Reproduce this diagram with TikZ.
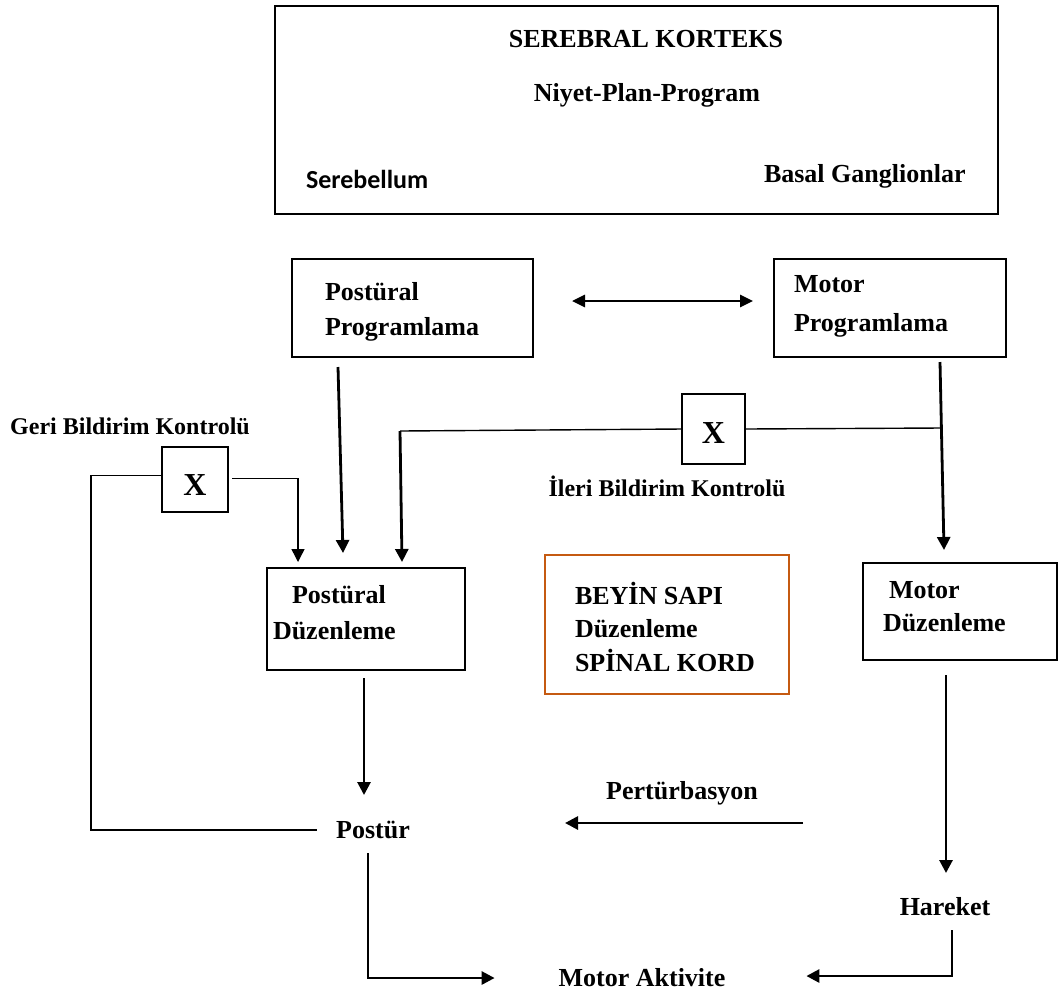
\documentclass[tikz,border=0pt]{standalone}
\usepackage{fontspec}
\setmainfont{Liberation Serif}
\newfontfamily\labelsans{Carlito}
\usetikzlibrary{arrows.meta,calc}
\definecolor{rust}{HTML}{C55A11}
\begin{document}
\begin{tikzpicture}[x=1pt,y=-1pt,
  box/.style={draw,line width=2.8pt,inner sep=0pt,outer sep=0pt},
  rustbox/.style={draw=rust,line width=2.6pt,inner sep=0pt,outer sep=0pt},
  txt/.style={font=\fontsize{26}{30}\selectfont\bfseries,inner sep=0pt,outer sep=0pt},
  smalltxt/.style={font=\fontsize{24}{28}\selectfont\bfseries,inner sep=0pt,outer sep=0pt},
  sanstxt/.style={font=\labelsans\fontsize{26}{30}\selectfont\bfseries,inner sep=0pt,outer sep=0pt},
  xmark/.style={font=\fontsize{32}{36}\selectfont\bfseries,inner sep=0pt},
  arr/.style={line width=2.8pt,-{Triangle[length=13pt,width=13pt]}},
  dblarr/.style={line width=2.8pt,{Triangle[length=13pt,width=12pt]}-{Triangle[length=13pt,width=12pt]}},
  thinl/.style={line width=1.4pt},
  thinarr/.style={line width=1.4pt,-{Triangle[length=13pt,width=13pt]}}]
\useasboundingbox (0,0) rectangle (1059,997);

% cortex block
\node[box,minimum width=723pt,minimum height=208pt] (cortex) at (636.5,110) {};
\node[txt,anchor=base] (sk) at (646,47) {SEREBRAL KORTEKS};
\node[txt,anchor=base] (npp) at (647,101) {Niyet-Plan-Program};
\node[sanstxt,anchor=base west] (sereb) at (306,188) {Serebellum};
\node[txt,anchor=base west] (basal) at (764,182) {Basal Ganglionlar};

% programming level
\node[box,minimum width=241pt,minimum height=98pt] (pp) at (412.5,308) {};
\node[txt,anchor=base west] (ppa) at (325,300) {Postüral};
\node[txt,anchor=base west] (ppb) at (325,335) {Programlama};
\node[box,minimum width=232pt,minimum height=98pt] (mp) at (890,308) {};
\node[txt,anchor=base west] (mpa) at (794,292) {Motor};
\node[txt,anchor=base west] (mpb) at (794,331) {Programlama};

% control gates
\node[box,minimum width=66pt,minimum height=65pt] (x1) at (195,479.5) {};
\node[xmark] (x1l) at (195,485) {X};
\node[smalltxt,anchor=base] (geri) at (130,434) {Geri Bildirim Kontrolü};
\node[box,minimum width=63pt,minimum height=70pt] (x2) at (713.5,429) {};
\node[xmark] (x2l) at (713.5,433) {X};
\node[smalltxt,anchor=base] (ileri) at (667,496) {İleri Bildirim Kontrolü};

% regulation level
\node[box,minimum width=198pt,minimum height=102pt] (pd) at (366,619) {};
\node[txt,anchor=base west] (pda) at (292,603) {Postüral};
\node[txt,anchor=base west] (pdb) at (273,639) {Düzenleme};
\node[rustbox,minimum width=244pt,minimum height=139pt] (bs) at (667,624.5) {};
\node[txt,anchor=base west] (bsa) at (575,604) {BEYİN SAPI};
\node[txt,anchor=base west] (bsb) at (575,637) {Düzenleme};
\node[txt,anchor=base west] (bsc) at (575,671) {SPİNAL KORD};
\node[box,minimum width=194pt,minimum height=97pt] (md) at (960,611.5) {};
\node[txt,anchor=base west] (mda) at (889,598) {Motor};
\node[txt,anchor=base west] (mdb) at (883,631) {Düzenleme};

% outputs
\node[txt,anchor=base] (postur) at (373,838) {Postür};
\node[txt,anchor=base] (pert) at (682,799) {Pertürbasyon};
\node[txt,anchor=base] (hareket) at (945,915) {Hareket};
\node[txt,anchor=base] (ma) at (642,986) {Motor Aktivite};

% connectors between programming blocks
\draw[dblarr] ($(pp.east)+(39,-7)$) -- ($(mp.west)+(-21,-7)$);
\draw[arr] ($(pp.south west)+(46,10)$) -- ($(pd.north west)+(76,-15)$);
\coordinate (ffj) at ($(mp.south west)+(167,71)$);
\draw[arr] ($(mp.south west)+(166,5)$) -- ($(md.north west)+(81,-13)$);

% feed-forward path
\coordinate (ffc) at ($(pd.north west)+(133,-137)$);
\draw[thinl] (ffj) -- (x2.east);
\draw[thinl] (x2.west) -- (ffc);
\draw[arr] (ffc) -- ($(pd.north west)+(135,-6)$);

% feedback loop
\draw[thinl] ($(x1.west)+(0,-4)$) -- ++(-71,0) |- ($(postur.base west)+(-19,-8)$);
\draw[thinarr] ($(x1.east)+(4,-1)$) -| ($(pd.north west)+(31,-6)$);

% regulation to outputs
\draw[arr] ($(pd.south west)+(97,8)$) -- ($(postur.base)+(-9,-43)$);
\draw[arr] ($(pert.base)+(121,24)$) -- ($(pert.base)+(-117,24)$);
\draw[arr] ($(md.south west)+(83,15)$) -- ($(hareket.base)+(1,-42)$);
\draw[arr] ($(postur.base)+(-5,15)$) |- ($(ma.base west)+(-64,-8)$);
\draw[arr] ($(hareket.base)+(7,15)$) |- ($(ma.base east)+(81,-10)$);
\end{tikzpicture}
\end{document}
